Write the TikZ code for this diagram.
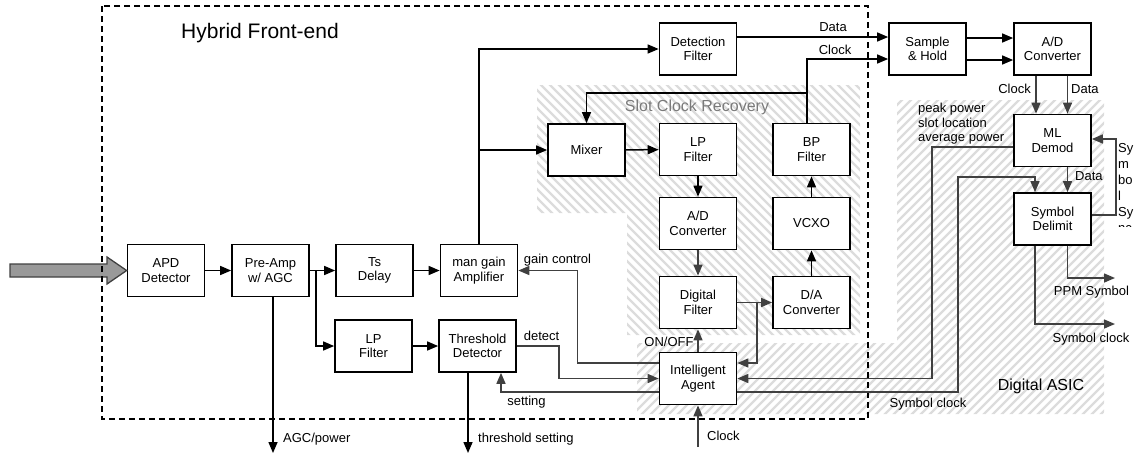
\documentclass[tikz,border=0pt]{standalone}
\usepackage{fontspec}
\setmainfont{Liberation Sans}
\usetikzlibrary{arrows.meta}
\definecolor{dgray}{HTML}{404040}
\definecolor{hatchc}{HTML}{DCDCDC}
\definecolor{arrowfill}{HTML}{999999}
\definecolor{titlegray}{HTML}{7A7A7A}
\begin{document}
\begin{tikzpicture}[x=1pt,y=-1pt,
  blk/.style={draw=black, line width=1.7pt, fill=white, minimum width=77pt, minimum height=52pt, inner sep=0pt, align=center, font=\fontsize{13}{14.5}\selectfont},
  ln/.style={line width=1.5pt, draw=black},
  arr/.style={ln, -{Triangle[length=11pt,width=9pt]}},
  garr/.style={arr, draw=dgray},
  gln/.style={ln, draw=dgray},
  lbl/.style={inner sep=0pt, font=\fontsize{13}{14.5}\selectfont, text height=9.5pt, text depth=2.5pt},
  hatch/.style={draw=hatchc, line width=2.2pt},
  frame/.style={draw=black, line width=1.6pt, dash pattern=on 6pt off 4pt},
  bigarrow/.style={draw=dgray, line width=1.3pt, fill=arrowfill},
]
\useasboundingbox (0,0) rectangle (1135,456);

% hatched regions
\begin{scope}
  \clip (537,85) rectangle (860,213) (627,85) rectangle (860,335);
  \foreach \c in {150,159,...,800} \draw[hatch] (\c,0) -- ++(500,500);
\end{scope}
\begin{scope}
  \clip (897,100) rectangle (1104,414) (637,343) rectangle (1104,414);
  \foreach \c in {975,984,...,1530} \draw[hatch] (\c,0) -- ++(-600,600);
\end{scope}

% blocks
\node[blk] (apd) at (166,270.5) {APD\\Detector};
\node[blk] (pre) at (270.5,270.5) {Pre-Amp\\w/ AGC};
\node[blk] (ts) at (374.5,270.5) {Ts\\Delay};
\node[blk] (amp) at (479,270.5) {man gain\\Amplifier};
\node[blk] (lpa) at (373.5,346) {LP\\Filter};
\node[blk] (thr) at (477.5,346) {Threshold\\Detector};
\node[blk] (det) at (698,49) {Detection\\Filter};
\node[blk] (mix) at (586.5,150) {Mixer};
\node[blk] (lpb) at (698,149.5) {LP\\Filter};
\node[blk] (bp) at (811.5,149.5) {BP\\Filter};
\node[blk] (adb) at (698,223.5) {A/D\\Converter};
\node[blk] (vcxo) at (811.5,223.5) {VCXO};
\node[blk] (df) at (698,302.5) {Digital\\Filter};
\node[blk] (da) at (811.5,302.5) {D/A\\Converter};
\node[blk] (ia) at (698,378.5) {Intelligent\\Agent};
\node[blk] (sh) at (927.5,49) {Sample\\\& Hold};
\node[blk] (adc) at (1052.5,49) {A/D\\Converter};
\node[blk] (ml) at (1052.5,140.5) {ML\\Demod};
\node[blk] (sd) at (1052.5,219) {Symbol\\Delimit};

% input arrow
\coordinate (inp) at (10,270.5);
\draw[bigarrow] (inp) ++(0,-6.5) -- (107,264) -- (107,257) -- (apd.west) -- (107,284) -- (107,277) -- (10,277) -- cycle;

% hybrid front-end frame
\draw[frame] (102,6) rectangle (868,419);

% free ends
\coordinate (agc) at (273,453);
\coordinate (ths) at (468,453);
\coordinate (clk) at (698,447);
\coordinate (ppm) at (1115,278);
\coordinate (sclk) at (1115,324);
\coordinate (fb) at (807,93);
\coordinate (br) at (316,270.5);
\coordinate (dabr) at (757,302.5);

% black connectors
\draw[arr] (apd) -- (pre);
\draw[ln] (pre.east) -- (br);
\draw[arr] (br) -- (ts.west);
\draw[arr] (br) |- (lpa.west);
\draw[arr] (ts) -- (amp);
\draw[arr] (lpa) -- (thr);
\draw[arr] (amp.north) |- (det.west);
\draw[arr] (amp.north |- mix.west) -- (mix.west);
\draw[arr] ([yshift=12pt]det.east) -- ([yshift=12pt]sh.west);
\draw[arr] ([xshift=-4.5pt]bp.north) |- ([yshift=-10pt]sh.west);
\draw[arr] (fb) -| (mix.north);
\draw[arr] (mix) -- (lpb);
\draw[arr] (lpb) -- (adb);
\draw[arr] (vcxo) -- (bp);
\draw[arr] (da) -- (vcxo);
\draw[arr] ([yshift=11pt]sh.east) -- ([yshift=11pt]adc.west);
\draw[arr] ([yshift=-11pt]sh.east) -- ([yshift=-11pt]adc.west);
\draw[arr] ([xshift=2.5pt]pre.south) -- (agc);
\draw[arr] ([xshift=-9.5pt]thr.south) -- (ths);

% gray connectors
\draw[garr] (adb) -- (df);
\draw[garr] (df) -- (da);
\draw[garr] (dabr) |- ([yshift=15.5pt]ia.east);
\draw[garr] (ia) -- (df);
\draw[garr] ([yshift=15.5pt]ia.west) -- ++(-81,0) |- (amp.east);
\draw[garr] (thr.east) -- ++(42,0) |- (ia.west);
\draw[garr] ([yshift=-13.5pt]ia.west) -| ([xshift=23.5pt]thr.south);
\draw[garr] (clk) -- (ia.south);
\draw[garr] ([yshift=-6.5pt]ml.west) -- ++(-81,0) |- (ia.east);
\draw[garr] ([yshift=-13.5pt]ia.east) -| (958,177) -| ([xshift=-17.5pt]sd.north);
\draw[garr] ([xshift=-16.5pt]adc.south) -- ([xshift=-16.5pt]ml.north);
\draw[garr] ([xshift=15pt]adc.south) -- ([xshift=15pt]ml.north);
\draw[garr] ([xshift=15pt]ml.south) -- ([xshift=15pt]sd.north);
\draw[garr] ([yshift=4pt]sd.east) -- ++(24,0) |- ([yshift=1.5pt]ml.east);
\draw[garr] ([xshift=15pt]sd.south) |- (ppm);
\draw[garr] ([xshift=-17.5pt]sd.south) |- (sclk);

% labels
\node[inner sep=0pt, font=\fontsize{21}{24}\selectfont] (ttl) at (260,33) {Hybrid Front-end};
\node[inner sep=0pt, font=\fontsize{16}{18}\selectfont, text=titlegray] (tscr) at (697,107) {Slot Clock Recovery};
\node[inner sep=0pt, font=\fontsize{16}{18}\selectfont] (tasic) at (1041,386) {Digital ASIC};
\node[lbl] (tdata) at (833,28) {Data};
\node[lbl] (tclk) at (835,51) {Clock};
\node[lbl, anchor=east] (tclk2) at (1031,90) {Clock};
\node[lbl, anchor=west] (tdata2) at (1071,90) {Data};
\node[lbl, anchor=west] (tdata3) at (1075,177) {Data};
\node[lbl] (tgain) at (557.5,260) {gain control};
\node[lbl] (tdet) at (541.5,337) {detect};
\node[lbl] (tset) at (526.5,402) {setting};
\node[lbl] (tonoff) at (669,343) {ON/OFF};
\node[lbl] (tsclk) at (928,404) {Symbol clock};
\node[lbl] (tppm) at (1091.5,292) {PPM Symbol};
\node[lbl] (tsclk2) at (1091,339) {Symbol clock};
\node[lbl, anchor=west] (tagc) at (283,439) {AGC/power};
\node[lbl, anchor=west] (tths) at (478,439) {threshold setting};
\node[lbl, anchor=west] (tclk3) at (707,437) {Clock};
\node[inner sep=0pt, align=left, anchor=north west, font=\fontsize{13}{14.5}\selectfont] (tpeak) at (918,103) {peak power\\slot location\\average power};
\begin{scope}
  \clip (1110,130) rectangle (1135,226);
  \node[inner sep=0pt, align=left, anchor=north west, font=\fontsize{13}{16}\selectfont] (tsync) at (1118,143.5) {Sy\\m\\bo\\l\\Sy\\nc};
\end{scope}
\end{tikzpicture}
\end{document}
